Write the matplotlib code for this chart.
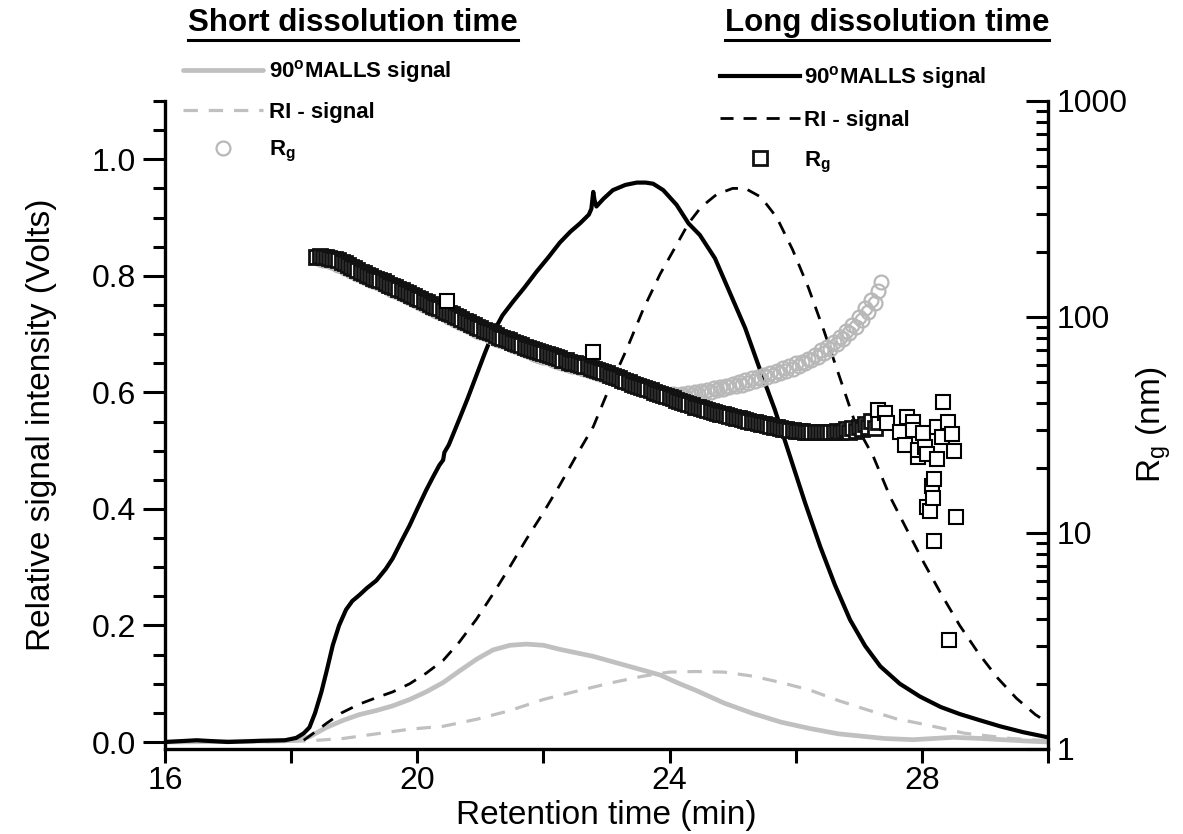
import matplotlib
matplotlib.use('Agg')
import matplotlib.pyplot as plt
from matplotlib.lines import Line2D
from matplotlib.ticker import FixedLocator, FixedFormatter, FormatStrFormatter, NullFormatter
import numpy as np

plt.rcParams['font.family'] = 'Liberation Sans'
plt.rcParams['mathtext.fontset'] = 'custom'
plt.rcParams['mathtext.rm'] = 'Liberation Sans'
plt.rcParams['mathtext.bf'] = 'Liberation Sans:bold'
plt.rcParams['mathtext.it'] = 'Liberation Sans:italic'

# long dissolution, 90 deg MALLS (black solid)
t_ms_long = [16.0, 16.5, 17.0, 17.5, 17.9, 18.08, 18.2, 18.29, 18.38, 18.48, 18.57, 18.66,
             18.76, 18.87, 18.97, 19.08, 19.2, 19.35, 19.5, 19.61, 19.75, 19.88, 20.0, 20.14,
             20.25, 20.35, 20.41, 20.43, 20.5, 20.67, 20.8, 20.94, 21.07, 21.2, 21.35, 21.52,
             21.7, 21.89, 22.08, 22.26, 22.43, 22.58, 22.72, 22.76, 22.79, 22.81, 22.84, 22.95,
             23.1, 23.3, 23.48, 23.62, 23.74, 23.9, 24.11, 24.3, 24.48, 24.72, 24.96, 25.2,
             25.43, 25.67, 25.91, 26.15, 26.39, 26.62, 26.86, 27.1, 27.34, 27.65, 27.97, 28.3,
             28.6, 28.9, 29.24, 29.6, 30.0]
v_ms_long = [0.0, 0.003, 0.0, 0.002, 0.003, 0.007, 0.015, 0.025, 0.05, 0.086, 0.125, 0.166,
             0.2, 0.227, 0.242, 0.252, 0.264, 0.277, 0.297, 0.315, 0.345, 0.372, 0.4, 0.432,
             0.455, 0.475, 0.484, 0.497, 0.51, 0.555, 0.59, 0.63, 0.667, 0.702, 0.732, 0.756,
             0.78, 0.807, 0.832, 0.857, 0.876, 0.89, 0.905, 0.915, 0.944, 0.93, 0.919, 0.932,
             0.947, 0.956, 0.96, 0.96, 0.958, 0.947, 0.922, 0.89, 0.87, 0.83, 0.77, 0.71,
             0.64, 0.57, 0.49, 0.41, 0.335, 0.27, 0.21, 0.165, 0.13, 0.1, 0.078, 0.06,
             0.048, 0.038, 0.027, 0.017, 0.008]

# long dissolution, RI (black dashed)
t_ri_long = [18.2, 18.34, 18.56, 18.8, 19.08, 19.35, 19.61, 19.88, 20.14, 20.41, 20.67, 20.94,
             21.2, 21.47, 21.73, 22.0, 22.26, 22.52, 22.79, 23.05, 23.32, 23.58, 23.85, 24.11,
             24.3, 24.5, 24.75, 25.0, 25.2, 25.45, 25.7, 25.95, 26.2, 26.45, 26.7, 26.95,
             27.23, 27.5, 27.76, 28.02, 28.3, 28.6, 28.9, 29.2, 29.5, 29.8, 30.0]
v_ri_long = [0.003, 0.014, 0.032, 0.05, 0.065, 0.076, 0.086, 0.1, 0.118, 0.14, 0.172, 0.211,
             0.254, 0.301, 0.348, 0.394, 0.441, 0.491, 0.541, 0.609, 0.674, 0.742, 0.803, 0.853,
             0.89, 0.918, 0.94, 0.95, 0.95, 0.935, 0.9, 0.845, 0.78, 0.705, 0.625, 0.545,
             0.49, 0.42, 0.365, 0.31, 0.255, 0.2, 0.152, 0.11, 0.075, 0.047, 0.033]

# short dissolution, 90 deg MALLS (grey solid)
t_ms_short = [16.0, 17.0, 17.9, 18.08, 18.29, 18.56, 18.82, 19.08, 19.35, 19.61, 19.88, 20.14,
              20.41, 20.67, 20.94, 21.2, 21.47, 21.73, 22.0, 22.26, 22.79, 23.32, 23.85, 24.16,
              24.41, 24.86, 25.32, 25.77, 26.23, 26.68, 27.41, 27.86, 28.5, 28.95, 29.6, 30.0]
v_ms_short = [0.0, 0.001, 0.002, 0.003, 0.009, 0.025, 0.037, 0.047, 0.054, 0.062, 0.073, 0.086,
              0.102, 0.122, 0.142, 0.158, 0.166, 0.168, 0.166, 0.159, 0.147, 0.131, 0.115, 0.1,
              0.089, 0.067, 0.049, 0.034, 0.023, 0.014, 0.006, 0.004, 0.008, 0.006, 0.002, 0.0]

# short dissolution, RI (grey dashed)
t_ri_short = [16.0, 17.5, 18.29, 18.82, 19.35, 19.88, 20.41, 20.94, 21.47, 22.0, 22.52, 23.05,
              23.58, 24.0, 24.41, 24.86, 25.32, 25.77, 26.23, 26.68, 27.14, 27.59, 28.05, 28.68,
              29.41, 30.0]
v_ri_short = [0.0, 0.0, 0.002, 0.006, 0.014, 0.022, 0.027, 0.039, 0.054, 0.073, 0.087, 0.101,
              0.113, 0.12, 0.121, 0.12, 0.113, 0.102, 0.089, 0.071, 0.055, 0.04, 0.03, 0.015,
              0.006, 0.002]

# Rg long dissolution (squares), one reading every 0.05 min from 18.40 min
rg_sq = [190, 191, 190, 189, 188, 186, 185, 183, 180, 177,
         174, 171, 168, 165, 162, 159, 157, 155, 152, 150,
         148, 146, 144, 141, 139, 137, 135, 133, 131, 129,
         127, 125, 123, 121, 119, 117, 115, 113, 111, 110,
         108, 106, 104, 103, 101, 99.5, 98, 96, 94.5, 93,
         91.5, 90, 89, 87.5, 86, 85, 84, 82.5, 81, 80,
         79, 78, 77, 76, 75, 74, 73, 72, 71, 70,
         69.5, 68.5, 68, 67.5, 67, 66, 65, 64.5, 63.5, 63,
         62, 61.5, 61, 60.5, 60, 59.5, 59, 58, 57.5, 57,
         56, 55.5, 55, 54, 53.5, 53, 52, 51, 50.5, 50,
         49, 48.5, 48, 47.5, 47, 46.5, 46, 45, 44.5, 44,
         43.5, 43, 42.5, 42, 41.5, 41, 40.5, 40, 39.5, 39,
         38.5, 38.2, 38, 37.5, 37, 36.8, 36.5, 36, 35.7, 35.4,
         35, 34.8, 34.5, 34.2, 34, 33.6, 33.3, 33, 32.8, 32.5,
         32.2, 32, 31.8, 31.5, 31.2, 31, 30.8, 30.6, 30.4, 30.2,
         30, 29.9, 29.8, 29.7, 29.6, 29.5, 29.4, 29.4, 29.3, 29.3,
         29.2, 29.3, 29.3, 29.2, 29.4, 29.6, 29.3, 29.8, 30.2, 29.5,
         30.5, 29.6, 31, 30.3, 32, 31, 33, 30.5, 32.5]
t_sq = 18.40 + 0.05 * np.arange(len(rg_sq))

# scattered squares off the main trail
t_sq_out = [20.47, 22.79, 27.31, 27.42, 27.45, 27.65, 27.73, 27.76, 27.86, 27.86, 27.94, 27.94,
            28.02, 28.05, 28.08, 28.08, 28.13, 28.16, 28.17, 28.2, 28.2, 28.24, 28.24, 28.32,
            28.33, 28.41, 28.43, 28.48, 28.51, 28.54]
rg_sq_out = [118, 69, 37, 36, 32.3, 29.3, 25.5, 34.5, 32.6, 29.9, 22.5, 24.3,
             29, 25, 23.2, 13.2, 12.6, 16.5, 14.5, 17.8, 9.2, 22, 31, 27.8,
             40.5, 32.6, 3.2, 28.7, 24, 11.9]

# Rg short dissolution (circles), one reading every 0.05 min from 18.45 min
rg_ci = [186, 184, 183, 181, 179, 177, 175, 172, 169, 166,
         163, 161, 158, 156, 153, 151, 149, 147, 145, 143,
         141, 139, 136, 134, 132, 130, 128, 126, 124, 122,
         120, 118, 116, 114, 112, 110, 109, 107, 105, 104,
         102, 100, 98.5, 97, 95.5, 94, 92.5, 91, 89.5, 88,
         86.5, 85.5, 84, 83, 82, 81, 79.5, 78.5, 77.5, 76.5,
         75.5, 74.5, 73.5, 72.5, 71.5, 70.5, 69.5, 68.5, 67.5, 67,
         66, 65.5, 65, 64.5, 63.5, 62.5, 62, 61, 60.5, 60,
         59.5, 59, 58.5, 58, 57.5, 57, 56, 55.5, 55, 54.5,
         54, 53.5, 52.5, 52, 51.5, 51, 50, 49.5, 49, 48.5,
         48, 47.5, 47, 46.5, 46, 45.5, 45, 44.5, 44.5, 44,
         44, 43.5, 44, 43.5, 43, 44, 43, 44.5, 43.5, 45,
         44, 45.5, 44.5, 46, 45, 47, 46, 47.5, 46.5, 48,
         47.5, 49, 48, 50, 48.5, 51, 49.5, 52, 50.5, 53,
         51.5, 54, 52.5, 55, 54, 56.5, 55, 58, 56, 59.5,
         57.5, 61, 59, 62, 61, 64, 63, 67, 65, 70,
         68, 73, 71, 77, 75, 81, 79, 86, 84, 92,
         90, 100, 97, 110, 106, 120, 116, 132, 145]
t_ci = 18.45 + 0.05 * np.arange(len(rg_ci))

grey = '#c0c0c0'
W, H = 1183, 834

fig = plt.figure(figsize=(W / 100, H / 100), dpi=100)
ax = fig.add_axes([165 / W, 1 - 749 / H, (1048 - 165) / W, (749 - 101) / H])
ax2 = ax.twinx()

l_ri_s, = ax.plot(t_ri_short, v_ri_short, color=grey, lw=2.3, dashes=(4.5, 3.4))
l_ms_s, = ax.plot(t_ms_short, v_ms_short, color=grey, lw=3.4, solid_capstyle='round')
l_ri_l, = ax.plot(t_ri_long, v_ri_long, color='k', lw=2.0, dashes=(4.7, 3.6))
l_ms_l, = ax.plot(t_ms_long, v_ms_long, color='k', lw=3.0)

m_ci, = ax2.plot(t_ci, rg_ci, ls='none', marker='o', ms=10, mew=1.6, mec='#b8b8b8', mfc='none')
m_sq, = ax2.plot(t_sq, rg_sq, ls='none', marker='s', ms=9.5, mew=2.0, mec='#111111', mfc='w')
ax2.plot(t_sq_out, rg_sq_out, ls='none', marker='s', ms=9.5, mew=1.5, mec='k', mfc='w')

ax.set_xlim(16, 30)
ax.set_ylim(-0.012, 1.1)
ax2.set_yscale('log')
ax2.set_ylim(1, 1000)

ax.xaxis.set_major_locator(FixedLocator([16, 20, 24, 28]))
ax.xaxis.set_minor_locator(FixedLocator([18, 22, 26, 30]))
ax.yaxis.set_major_locator(FixedLocator([0, 0.2, 0.4, 0.6, 0.8, 1.0]))
ax.yaxis.set_minor_locator(FixedLocator(np.arange(0, 1.101, 0.05)))
ax.yaxis.set_major_formatter(FormatStrFormatter('%.1f'))

ax2.yaxis.set_major_locator(FixedLocator([1, 10, 100, 1000]))
ax2.yaxis.set_major_formatter(FixedFormatter(['1', '10', '100', '1000']))
minors = [m * 10 ** e for e in range(3) for m in range(2, 10)]
ax2.yaxis.set_minor_locator(FixedLocator(minors))
ax2.yaxis.set_minor_formatter(NullFormatter())

ax.tick_params(axis='x', which='both', direction='out', length=10, width=2.2,
               labelsize=23, pad=2)
ax.tick_params(axis='y', which='major', direction='out', length=16, width=2.2,
               labelsize=23, pad=5)
ax.tick_params(axis='y', which='minor', direction='out', length=8.5, width=2.2)
ax2.tick_params(axis='y', which='major', direction='in', length=16, width=2.2,
                labelsize=23, pad=6)
ax2.tick_params(axis='y', which='minor', direction='in', length=8.5, width=2.2)

for s in ['top', 'right']:
    ax.spines[s].set_visible(False)
for s in ['top', 'left', 'bottom']:
    ax2.spines[s].set_visible(False)
for s in ['left', 'bottom']:
    ax.spines[s].set_linewidth(2.4)
ax2.spines['right'].set_linewidth(2.4)

ax.set_xlabel('Retention time (min)', fontsize=24, labelpad=3)
ax.set_ylabel('Relative signal intensity (Volts)', fontsize=24, labelpad=25)
ax2.set_ylabel(r'R$_{\mathrm{g}}$ (nm)', fontsize=24, labelpad=5)

leg_kw = dict(frameon=False, prop={'weight': 'bold', 'size': 16}, handlelength=3.6,
              borderpad=0, borderaxespad=0, numpoints=1, bbox_transform=fig.transFigure,
              loc='upper left')
fig.legend(handles=[l_ms_s, l_ri_s, m_ci],
           labels=[r'90$^{\mathbf{o}}$MALLS signal', 'RI - signal', r'R$_{\mathbf{g}}$'],
           bbox_to_anchor=(183 / W, 1 - 58 / H), handletextpad=0.25, labelspacing=0.75,
           **leg_kw)
fig.legend(handles=[l_ms_l, l_ri_l, m_sq],
           labels=[r'90$^{\mathbf{o}}$MALLS signal', 'RI - signal', r'R$_{\mathbf{g}}$'],
           bbox_to_anchor=(720 / W, 1 - 64 / H), handletextpad=0.2, labelspacing=0.85,
           **leg_kw)

t1 = fig.text(353 / W, 1 - 23 / H, 'Short dissolution time', ha='center', va='center',
              fontsize=22.5, fontweight='bold')
t2 = fig.text(887 / W, 1 - 23 / H, 'Long dissolution time', ha='center', va='center',
              fontsize=22.5, fontweight='bold')

fig.canvas.draw()
r = fig.canvas.get_renderer()
for t in (t1, t2):
    bb = t.get_window_extent(r)
    fig.add_artist(Line2D([bb.x0 / W, bb.x1 / W], [1 - 40 / H, 1 - 40 / H],
                          transform=fig.transFigure, color='k', lw=2.2))

fig.savefig('out.png', dpi=100)
